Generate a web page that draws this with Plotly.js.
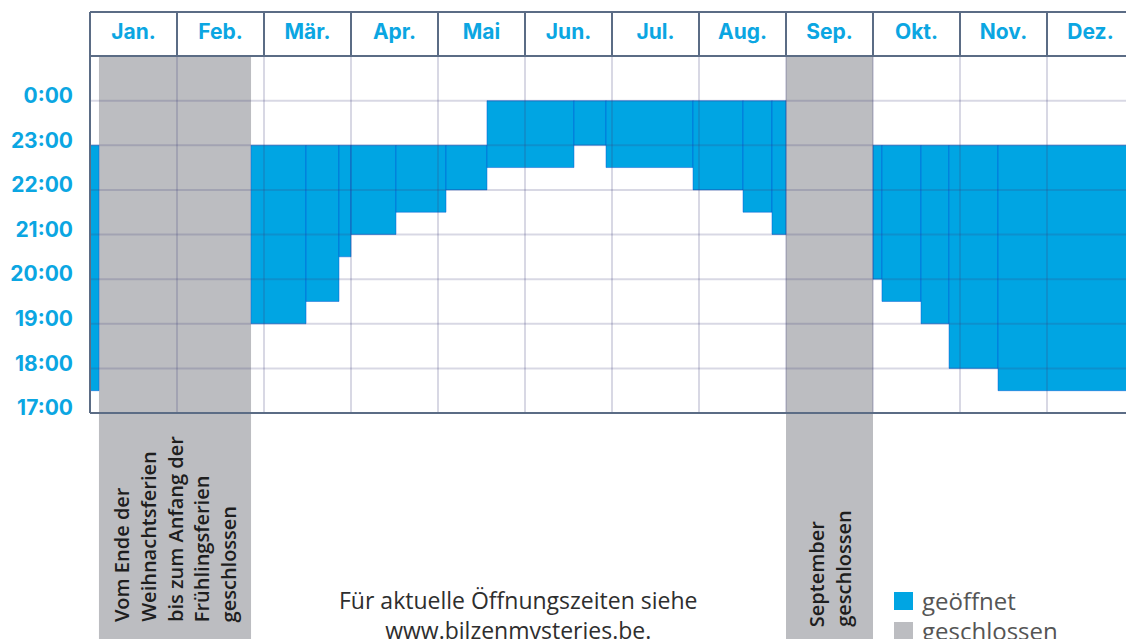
<!DOCTYPE html>
<html>
<head>
<meta charset="utf-8">
<script src="https://cdn.plot.ly/plotly-3.0.1.min.js"></script>
<style>html,body{margin:0;padding:0;background:#fff;}#chart{width:1126px;height:639px;}</style>
</head>
<body>
<div id="chart"></div>
<script>
// ---- data ----
const months = ['Jan.','Feb.','Mär.','Apr.','Mai','Jun.','Jul.','Aug.','Sep.','Okt.','Nov.','Dez.'];
const hourTicks = [17,18,19,20,21,22,23,24];
const hourLabels = ['17:00','18:00','19:00','20:00','21:00','22:00','23:00','0:00'];

// opening periods (position in months from 1 Jan, hours; 24 = midnight)
const segStart  = [0, 1.851, 2.483, 2.862, 3.0, 3.517, 4.092, 4.563, 5.563, 5.931, 6.931, 7.506, 7.839, 9.0, 9.103, 9.552, 9.874, 10.437];
const segEnd    = [0.103, 2.483, 2.862, 3.0, 3.517, 4.092, 4.563, 5.563, 5.931, 6.931, 7.506, 7.839, 8.0, 9.103, 9.552, 9.874, 10.437, 12];
const openFrom  = [17.5, 19, 19.5, 20.5, 21, 21.5, 22, 22.5, 23, 22.5, 22, 21.5, 21, 20, 19.5, 19, 18, 17.5];
const openUntil = [23, 23, 23, 23, 23, 23, 23, 24, 24, 24, 24, 24, 24, 23, 23, 23, 23, 23];

// closed periods
const closedStart = [0.103, 8.0];
const closedEnd   = [1.851, 9.0];
const closedText  = [
  ['Vom Ende der', 'Weihnachtsferien', 'bis zum Anfang der', 'Frühlingsferien', 'geschlossen'],
  ['September', 'geschlossen']
];

const legendLabels = ['geöffnet', 'geschlossen'];
const infoText = ['Für aktuelle Öffnungszeiten siehe', 'www.bilzenmysteries.be.'];

// ---- style / geometry ----
const W = 1126, H = 639, L = 90, T = 56, B = 226;
const plotW = W - L, plotH = H - T - B;
const monthPx = 87;
const BLUE = '#00A5E3', GRAY = '#BCBDC1', TXTBLUE = '#0BA6E2';
const FRAME = '#5B6C85', GRID = 'rgba(60,60,120,0.2)';
const py = px => (T + plotH - px) / plotH;     // pixel row -> paper y
const pxX = px => (px - L) / plotW;             // pixel col -> paper x
const headerTop = py(12);

// bars
const barX = segStart.map((s, i) => (s + segEnd[i]) / 2);
const barW = segStart.map((s, i) => segEnd[i] - s);
const barH = openFrom.map((f, i) => openUntil[i] - f);

const traces = [{
  type: 'bar',
  x: barX, y: barH, base: openFrom, width: barW,
  marker: {color: BLUE, line: {color: 'rgba(0,80,210,0.45)', width: 1}},
  hoverinfo: 'skip', showlegend: false
}];

const shapes = [];
// closed bands (extend below the plot)
closedStart.forEach((s, i) => {
  shapes.push({type: 'rect', layer: 'below', xref: 'x', yref: 'paper',
    x0: s, x1: closedEnd[i], y0: -1, y1: 1, fillcolor: GRAY, line: {width: 0}});
});
// grid (drawn above, semi-transparent)
for (let m = 1; m < 12; m++) {
  shapes.push({type: 'line', layer: 'above', xref: 'x', yref: 'y', x0: m, x1: m, y0: 17, y1: 25,
    line: {color: GRID, width: 2}});
  shapes.push({type: 'line', layer: 'above', xref: 'x', yref: 'paper', x0: m, x1: m, y0: 1, y1: headerTop,
    line: {color: FRAME, width: 2}});
}
hourTicks.slice(1).forEach(h => {
  shapes.push({type: 'line', layer: 'above', xref: 'paper', yref: 'y', x0: 0, x1: 1, y0: h, y1: h,
    line: {color: GRID, width: 2}});
});
// frame
[[0, headerTop, 1, headerTop], [0, 1, 1, 1], [0, 0, 1, 0], [0, 0, 0, headerTop]].forEach(c => {
  shapes.push({type: 'line', layer: 'above', xref: 'paper', yref: 'paper',
    x0: c[0], y0: c[1], x1: c[2], y1: c[3], line: {color: FRAME, width: 2}});
});
// legend swatches
[BLUE, GRAY].forEach((c, i) => {
  const top = 592 + i * 30;
  shapes.push({type: 'rect', layer: 'above', xref: 'paper', yref: 'paper',
    x0: pxX(894), x1: pxX(913), y0: py(top), y1: py(top + 18), fillcolor: c, line: {width: 0}});
});

const annotations = [];
// rotated texts in the closed bands
const lineSpacing = 26.7 / monthPx;
const bandBottom = [623, 628];
closedText.forEach((lines, i) => {
  const c = (closedStart[i] + closedEnd[i]) / 2;
  lines.forEach((t, j) => {
    annotations.push({text: t, xref: 'x', yref: 'paper',
      x: c + (j - (lines.length - 1) / 2) * lineSpacing, y: py(bandBottom[i]),
      xanchor: 'center', yanchor: 'bottom', textangle: -90, showarrow: false, borderpad: 0,
      font: {family: 'Open Sans', size: 20, weight: 600, color: '#1E1E1E'}});
  });
});
// info text
annotations.push({text: infoText.join('<br>'), xref: 'paper', yref: 'paper',
  x: pxX(518), y: py(615), xanchor: 'center', yanchor: 'middle', align: 'center', showarrow: false,
  font: {family: 'Open Sans', size: 23, color: '#2E2E2E'}});
// legend texts
legendLabels.forEach((t, i) => {
  annotations.push({text: t, xref: 'paper', yref: 'paper', x: pxX(920), y: py(600 + i * 30),
    xanchor: 'left', yanchor: 'middle', showarrow: false,
    font: {family: 'Open Sans', size: 24, color: '#555'}});
});

const layout = {
  width: W, height: H,
  margin: {l: L, r: 0, t: T, b: B, pad: 0},
  paper_bgcolor: '#fff', plot_bgcolor: '#fff',
  barmode: 'overlay', bargap: 0,
  showlegend: false,
  xaxis: {range: [0, plotW / monthPx], side: 'top', tickvals: months.map((m, i) => i + 0.5), ticktext: months,
    showgrid: false, zeroline: false, showline: false, ticks: '', ticklabelstandoff: 12,
    tickfont: {family: 'Inter', size: 21, weight: 700, color: TXTBLUE}, fixedrange: true},
  yaxis: {range: [17, 25], tickvals: hourTicks, ticktext: hourLabels,
    showgrid: false, zeroline: false, showline: false, ticks: '', ticklabelstandoff: 16, ticklabelshift: -5,
    tickfont: {family: 'Inter', size: 21, weight: 700, color: TXTBLUE}, fixedrange: true},
  shapes: shapes,
  annotations: annotations
};

Plotly.newPlot('chart', traces, layout, {displayModeBar: false, staticPlot: true});
</script>
</body>
</html>
